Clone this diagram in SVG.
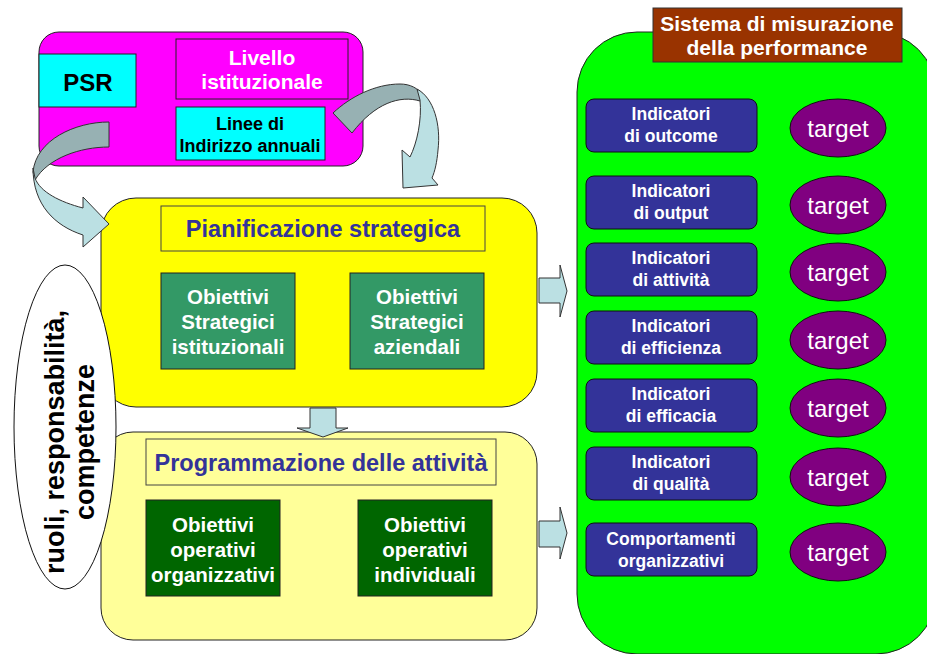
<svg xmlns="http://www.w3.org/2000/svg" width="927" height="654" viewBox="0 0 927 654">
<style>
text{font-family:"Liberation Sans",Arial,sans-serif;font-weight:bold;text-anchor:middle}
.w{fill:#fff}
.k{fill:#000}
.b{fill:#333399}
.edge{stroke:#222;stroke-width:1}
.ind{fill:#333399;stroke:#111;stroke-width:1}
.tg{fill:#800080;stroke:#111;stroke-width:1}
.tt{font-weight:normal;font-size:24px;fill:#fff}
.it{font-size:17.5px;fill:#fff}
.arr{fill:#BBE0E3;stroke:#333;stroke-width:1}
.arrd{fill:#97B1B3;stroke:#333;stroke-width:1}
</style>
<rect width="927" height="654" fill="#fff"/>

<g id="istituzionale">
<rect x="39" y="32" width="324" height="134" rx="20" fill="#FF00FF" class="edge"/>
</g>
<g id="psr">
<rect x="39" y="54" width="97" height="53" fill="#00FFFF" class="edge"/>
<text x="88" y="91" font-size="24" class="k">PSR</text>
</g>
<g id="livello">
<rect x="176" y="39" width="172" height="60" fill="#FF00FF" class="edge"/>
<text x="262" y="65" font-size="21" class="w">Livello</text>
<text x="262" y="89" font-size="21" class="w">istituzionale</text>
</g>
<g id="linee">
<rect x="176" y="107" width="149" height="53" fill="#00FFFF" class="edge"/>
<text x="250" y="130" font-size="18" class="k">Linee di</text>
<text x="250" y="152" font-size="18" class="k">Indirizzo annuali</text>
</g>

<g id="pianificazione">
<rect x="101" y="198" width="436" height="209" rx="35" fill="#FFFF00" class="edge"/>
<rect x="161" y="206" width="324" height="45" fill="#FFFF00" stroke="#444" stroke-width="1"/>
<text x="323" y="237" font-size="23.5" class="b">Pianificazione strategica</text>
</g>
<g id="ob-strat-ist">
<rect x="161" y="273" width="134" height="96" fill="#339966" class="edge"/>
<text x="228" y="304" font-size="20.5" class="w">Obiettivi</text>
<text x="228" y="329" font-size="20.5" class="w">Strategici</text>
<text x="228" y="354" font-size="20.5" class="w">istituzionali</text>
</g>
<g id="ob-strat-az">
<rect x="350" y="273" width="134" height="96" fill="#339966" class="edge"/>
<text x="417" y="304" font-size="20.5" class="w">Obiettivi</text>
<text x="417" y="329" font-size="20.5" class="w">Strategici</text>
<text x="417" y="354" font-size="20.5" class="w">aziendali</text>
</g>

<g id="programmazione">
<rect x="101" y="432" width="436" height="208" rx="32" fill="#FFFF99" class="edge"/>
<rect x="146" y="439" width="350" height="46" fill="#FFFF99" stroke="#444" stroke-width="1"/>
<text x="321" y="471" font-size="23.5" class="b">Programmazione delle attività</text>
</g>
<g id="ob-op-org">
<rect x="146" y="500" width="134" height="96" fill="#006600" class="edge"/>
<text x="213" y="532" font-size="20.5" class="w">Obiettivi</text>
<text x="213" y="557" font-size="20.5" class="w">operativi</text>
<text x="213" y="582" font-size="20.5" class="w">organizzativi</text>
</g>
<g id="ob-op-ind">
<rect x="358" y="500" width="134" height="96" fill="#006600" class="edge"/>
<text x="425" y="532" font-size="20.5" class="w">Obiettivi</text>
<text x="425" y="557" font-size="20.5" class="w">operativi</text>
<text x="425" y="582" font-size="20.5" class="w">individuali</text>
</g>

<g id="ruoli">
<ellipse cx="65" cy="427" rx="51" ry="162" fill="#fff" stroke="#111" stroke-width="1"/>
<text transform="translate(0,442) rotate(-90)" font-size="27" class="k"><tspan x="0" y="64">ruoli, responsabilità,</tspan><tspan x="0" y="94">competenze</tspan></text>
</g>

<g id="sistema">
<rect x="577" y="32" width="359" height="622" rx="60" fill="#00FF00" class="edge"/>
<rect x="653" y="8" width="249" height="54" fill="#993300" stroke="#333" stroke-width="1"/>
<text x="777" y="31" font-size="21" class="w">Sistema di misurazione</text>
<text x="777" y="55" font-size="21" class="w">della performance</text>
</g>

<g id="ind-outcome">
<rect x="586" y="99" width="171" height="53" rx="8" class="ind"/>
<text x="671" y="120" class="it">Indicatori</text><text x="671" y="142" class="it">di outcome</text>
</g>
<g id="ind-output">
<rect x="586" y="176" width="171" height="53" rx="8" class="ind"/>
<text x="671" y="197" class="it">Indicatori</text><text x="671" y="219" class="it">di output</text>
</g>
<g id="ind-attivita">
<rect x="586" y="243" width="171" height="53" rx="8" class="ind"/>
<text x="671" y="264" class="it">Indicatori</text><text x="671" y="286" class="it">di attività</text>
</g>
<g id="ind-efficienza">
<rect x="586" y="311" width="171" height="53" rx="8" class="ind"/>
<text x="671" y="332" class="it">Indicatori</text><text x="671" y="354" class="it">di efficienza</text>
</g>
<g id="ind-efficacia">
<rect x="586" y="379" width="171" height="53" rx="8" class="ind"/>
<text x="671" y="400" class="it">Indicatori</text><text x="671" y="422" class="it">di efficacia</text>
</g>
<g id="ind-qualita">
<rect x="586" y="447" width="171" height="53" rx="8" class="ind"/>
<text x="671" y="468" class="it">Indicatori</text><text x="671" y="490" class="it">di qualità</text>
</g>
<g id="comportamenti">
<rect x="586" y="523" width="171" height="53" rx="8" class="ind"/>
<text x="671" y="545" class="it">Comportamenti</text><text x="671" y="567" class="it">organizzativi</text>
</g>

<g id="target-1"><ellipse cx="838" cy="128" rx="48" ry="29" class="tg"/><text x="838" y="137" class="tt">target</text></g>
<g id="target-2"><ellipse cx="838" cy="205" rx="48" ry="29" class="tg"/><text x="838" y="214" class="tt">target</text></g>
<g id="target-3"><ellipse cx="838" cy="272" rx="48" ry="29" class="tg"/><text x="838" y="281" class="tt">target</text></g>
<g id="target-4"><ellipse cx="838" cy="340" rx="48" ry="29" class="tg"/><text x="838" y="349" class="tt">target</text></g>
<g id="target-5"><ellipse cx="838" cy="408" rx="48" ry="29" class="tg"/><text x="838" y="417" class="tt">target</text></g>
<g id="target-6"><ellipse cx="838" cy="477" rx="48" ry="29" class="tg"/><text x="838" y="486" class="tt">target</text></g>
<g id="target-7"><ellipse cx="838" cy="552" rx="48" ry="29" class="tg"/><text x="838" y="561" class="tt">target</text></g>

<g id="connectors">
<path class="arrd" d="M109,122 L109,147 C80,147 48,158 35,180 L33,172 C36,140 75,122 109,122 Z"/>
<path class="arr" d="M33,168 C33,205 55,226 83,235 L83,247 L109,224 L83,197 L83,208 C60,202 40,192 35,178 Z"/>
<path class="arrd" d="M333,113 C350,97 375,84 400,84 C410,84 418,88 424,96 L420,101 C400,95 375,103 352,133 Z"/>
<path class="arr" d="M417,89 C434,98 441,125 438,150 C437,162 435,171 432,178 L438,185 L403,188 L402,150 L410,157 C417,143 422,120 420,100 Z"/>
<path class="arr" d="M310,408 L336,408 L336,428 L348,428 L323,437 L297,428 L310,428 Z"/>
<path class="arr" d="M539,278 L560,278 L560,265 L567,291 L560,317 L560,303 L539,303 Z"/>
<path class="arr" d="M539,521 L560,521 L560,507 L567,533 L560,559 L560,547 L539,547 Z"/>
</g>
</svg>
